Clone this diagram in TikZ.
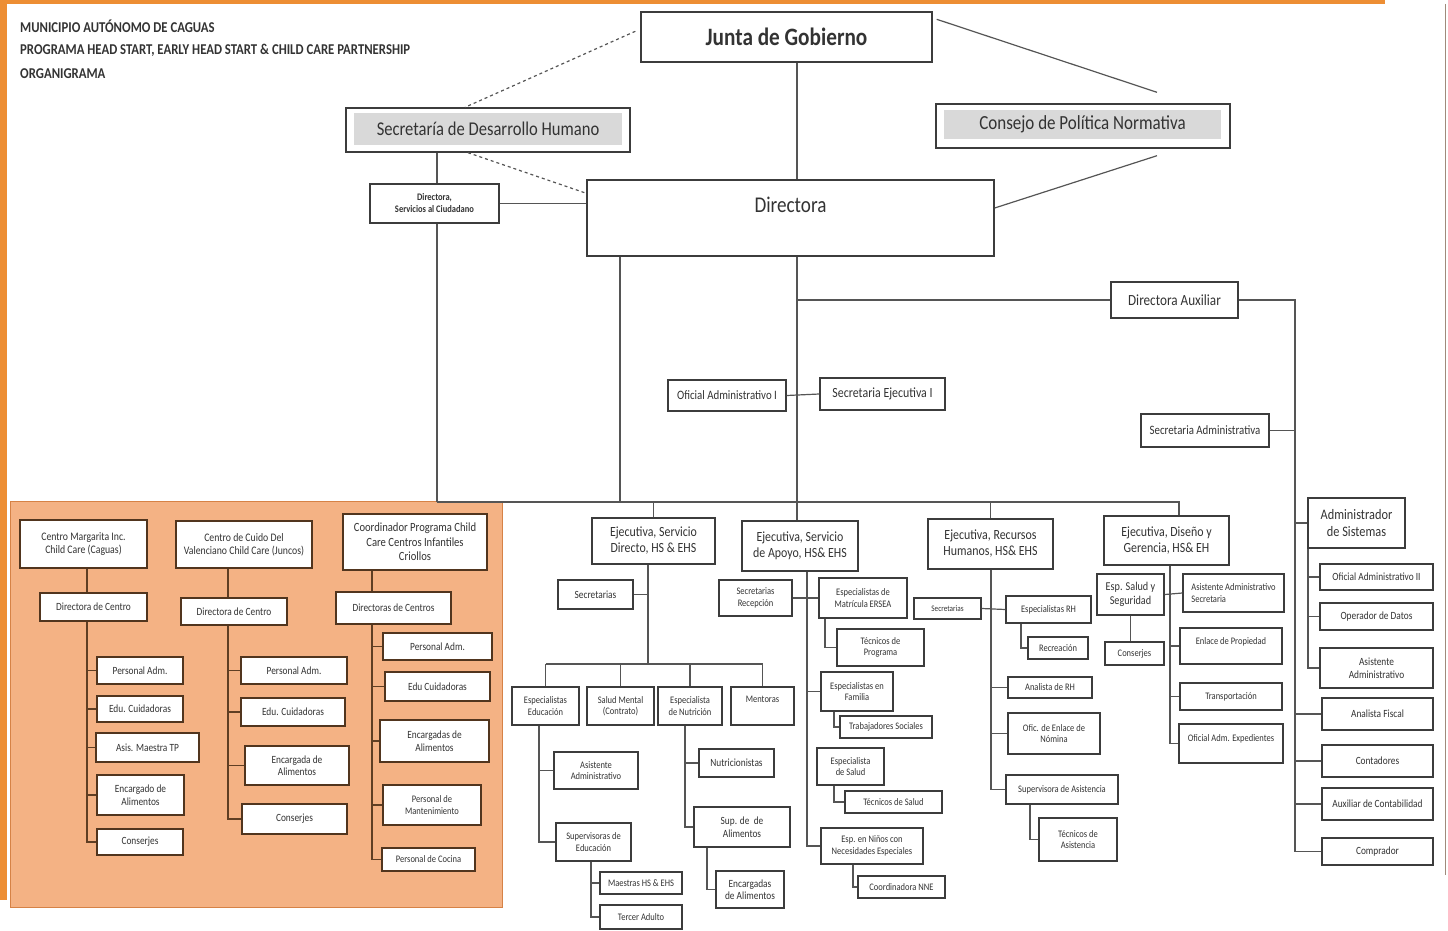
\documentclass[tikz,border=0pt]{standalone}
\usepackage{fontspec}
\setmainfont{Carlito}[FakeStretch=0.85]
\usepackage{tikz}

\definecolor{slide}{RGB}{237,142,52}
\definecolor{orfill}{RGB}{244,178,132}
\definecolor{ordraw}{RGB}{214,130,70}
\definecolor{boxc}{RGB}{60,60,60}
\definecolor{linec}{RGB}{85,85,85}
\definecolor{brownc}{RGB}{95,62,35}
\definecolor{grayin}{RGB}{217,217,217}

\tikzset{
  box/.style={draw=boxc, line width=1.4pt, fill=white, align=center, inner sep=1pt,
    text=black!80, font=\fontsize{11}{12.5}\selectfont},
  obox/.style={box, draw=brownc!85!black},
  link/.style={draw=linec, line width=1.2pt},
  olink/.style={draw=brownc, line width=1.3pt},
  title/.style={anchor=west, inner sep=0pt, text=black!80, font=\bfseries\fontsize{15}{17}\selectfont},
  fa/.style={font=\fontsize{10}{11.5}\selectfont},
  fb/.style={font=\fontsize{11}{12.5}\selectfont},
  fc/.style={font=\fontsize{12}{13.5}\selectfont},
  fd/.style={font=\fontsize{14}{16}\selectfont},
  fe/.style={font=\fontsize{15.5}{17.5}\selectfont}
}

% box from its two corners: [style]{name}{x1}{y1}{x2}{y2}{text}
\newcommand{\orgbox}[7][]{%
  \node[box, #1, minimum width={#5-#3}, minimum height={#6-#4}] (#2) at ({(#3+#5)/2},{(#4+#6)/2}) {#7};}

\begin{document}
\begin{tikzpicture}[x=1pt, y=-1pt]
  \useasboundingbox (0,0) rectangle (1448,931);
  \fill[slide] (0,0) rectangle (1385,4);
  \fill[slide] (0,0) rectangle (7,900);
  \draw[brownc!60, line width=1pt] (1445,4) -- (1445,875);
  \filldraw[fill=orfill, draw=ordraw, line width=1pt] (10,501) rectangle (502,907);

  \node[title] (tit1) at (20,26) {MUNICIPIO AUTÓNOMO DE CAGUAS};
  \node[title] (tit2) at (20,50) {PROGRAMA HEAD START, EARLY HEAD START \& CHILD CARE PARTNERSHIP};
  \node[title] (tit3) at (20,74) {ORGANIGRAMA};

  % top of the chart
  \orgbox[font=\bfseries\fontsize{25}{27}\selectfont]{jdg}{641}{12}{932}{62}{Junta de Gobierno}
  \orgbox{sdh}{346}{108}{630}{152}{}
  \orgbox[draw=none, fill=grayin, font=\fontsize{19.5}{21}\selectfont]{sdhin}{354}{113}{622}{145}{Secretaría de Desarrollo Humano}
  \orgbox{cpn}{936}{104}{1230}{148}{}
  \orgbox[draw=none, fill=grayin, font=\fontsize{20}{22}\selectfont]{cpnin}{944}{110}{1221}{139}{Consejo de Política Normativa}
  \orgbox[font=\fontsize{22.5}{24}\selectfont, text height=15pt, text depth=27pt]{dir}{587}{180}{994}{256}{Directora}
  \orgbox[font=\bfseries\fontsize{10}{12}\selectfont]{dsc}{370}{184}{499}{223}{Directora,\\Servicios al Ciudadano}
  \orgbox[fe]{daux}{1111}{282}{1238}{318}{Directora Auxiliar}
  \orgbox[font=\fontsize{12.8}{14}\selectfont]{oadm}{668}{380}{786}{411}{Oficial Administrativo I}
  \orgbox[fd]{sej}{820}{378}{945}{410}{Secretaria Ejecutiva I}
  \orgbox[font=\fontsize{12.8}{14}\selectfont]{sadm}{1141}{414}{1269}{447}{Secretaria Administrativa}

  % administracion
  \orgbox[font=\fontsize{14.5}{16.5}\selectfont]{adsis}{1308}{498}{1405}{548}{Administrador\\de Sistemas}
  \orgbox[fb]{oa2}{1320}{564}{1433}{590}{Oficial Administrativo II}
  \orgbox[fb]{opd}{1320}{603}{1433}{630}{Operador de Datos}
  \orgbox[fb]{asad2}{1320}{648}{1433}{688}{Asistente\\Administrativo}
  \orgbox[fb]{afis}{1322}{698}{1433}{730}{Analista Fiscal}
  \orgbox[fb]{cont}{1322}{745}{1433}{777}{Contadores}
  \orgbox[fb]{auxc}{1322}{788}{1433}{820}{Auxiliar de Contabilidad}
  \orgbox[fb]{comp}{1322}{838}{1433}{865}{Comprador}

  % centros de cuido
  \orgbox[obox, font=\fontsize{11.5}{13}\selectfont]{cm1}{20}{520}{147}{568}{Centro Margarita Inc.\\Child Care (Caguas)}
  \orgbox[obox, font=\fontsize{11.5}{13}\selectfont]{cm2}{176}{521}{312}{568}{Centro de Cuido Del\\Valenciano Child Care (Juncos)}
  \orgbox[obox, font=\fontsize{12.5}{14.5}\selectfont]{cm3}{343}{514}{487}{570}{Coordinador Programa Child\\Care Centros Infantiles\\Criollos}
  \orgbox[obox]{dc1}{40}{593}{147}{621}{Directora de Centro}
  \orgbox[obox]{dc2}{181}{598}{287}{625}{Directora de Centro}
  \orgbox[obox]{dc3}{336}{592}{451}{624}{Directoras de Centros}
  \orgbox[obox]{pa1}{97}{657}{183}{684}{Personal Adm.}
  \orgbox[obox]{ec1}{97}{696}{183}{722}{Edu. Cuidadoras}
  \orgbox[obox]{am1}{96}{733}{199}{762}{Asis. Maestra TP}
  \orgbox[obox]{ea1}{97}{775}{184}{815}{Encargado de\\Alimentos}
  \orgbox[obox]{co1}{97}{829}{183}{855}{Conserjes}
  \orgbox[obox]{pa2}{241}{657}{347}{684}{Personal Adm.}
  \orgbox[obox]{ec2}{241}{698}{345}{726}{Edu. Cuidadoras}
  \orgbox[obox]{ea2}{245}{746}{349}{785}{Encargada de\\Alimentos}
  \orgbox[obox]{co2}{242}{804}{347}{834}{Conserjes}
  \orgbox[obox]{pa3}{383}{633}{492}{660}{Personal Adm.}
  \orgbox[obox]{ec3}{385}{672}{490}{701}{Edu Cuidadoras}
  \orgbox[obox]{ea3}{380}{720}{489}{762}{Encargadas de\\Alimentos}
  \orgbox[obox, fa]{pm3}{383}{785}{481}{825}{Personal de\\Mantenimiento}
  \orgbox[obox, fa]{pc3}{382}{848}{475}{871}{Personal de Cocina}

  % servicio directo
  \orgbox[fd]{ejsd}{592}{518}{715}{564}{Ejecutiva, Servicio\\Directo, HS \& EHS}
  \orgbox[fb]{sdsec}{558}{580}{633}{609}{Secretarias}
  \orgbox[fa]{espe}{512}{687}{579}{725}{Especialistas\\Educación}
  \orgbox[fa]{salm}{587}{687}{654}{725}{Salud Mental\\(Contrato)}
  \orgbox[fa]{espn}{658}{687}{722}{725}{Especialista\\de Nutrición}
  \orgbox[fa, text height=7pt, text depth=15pt]{ment}{731}{687}{794}{725}{Mentoras}
  \orgbox[fa]{asad1}{554}{752}{638}{789}{Asistente\\Administrativo}
  \orgbox[fa]{supe}{556}{823}{631}{861}{Supervisoras de\\Educación}
  \orgbox[fa]{maes}{600}{872}{682}{894}{Maestras HS \& EHS}
  \orgbox[fa]{terc}{600}{905}{682}{929}{Tercer Adulto}
  \orgbox[fb]{nutc}{699}{749}{774}{777}{Nutricionistas}
  \orgbox[fb]{supa}{694}{807}{790}{847}{Sup. de\ \ de\\Alimentos}
  \orgbox[fb]{enca}{716}{871}{784}{908}{Encargadas\\de Alimentos}

  % servicio de apoyo
  \orgbox[fd]{ejsa}{742}{521}{858}{571}{Ejecutiva, Servicio\\de Apoyo, HS\& EHS}
  \orgbox[fa]{srec}{719}{580}{792}{616}{Secretarias\\Recepción}
  \orgbox[fa]{ersea}{819}{578}{907}{618}{Especialistas de\\Matrícula ERSEA}
  \orgbox[fa]{tprog}{837}{629}{924}{666}{Técnicos de\\Programa}
  \orgbox[fa]{efam}{821}{672}{893}{711}{Especialistas en\\Familia}
  \orgbox[fa]{trab}{840}{716}{932}{738}{Trabajadores Sociales}
  \orgbox[fa]{esal}{817}{748}{884}{785}{Especialista\\de Salud}
  \orgbox[fa]{tsal}{845}{791}{942}{813}{Técnicos de Salud}
  \orgbox[fa]{enne}{821}{828}{923}{864}{Esp. en Niños con\\Necesidades Especiales}
  \orgbox[fa]{cnne}{858}{876}{945}{898}{Coordinadora NNE}

  % recursos humanos
  \orgbox[fd]{ejrh}{928}{519}{1053}{569}{Ejecutiva, Recursos\\Humanos, HS\& EHS}
  \orgbox[font=\fontsize{8.5}{10}\selectfont]{rhsec}{914}{598}{981}{619}{Secretarias}
  \orgbox[fa]{esprh}{1006}{596}{1091}{623}{Especialistas RH}
  \orgbox[fa]{recr}{1028}{637}{1088}{659}{Recreación}
  \orgbox[fa]{anrh}{1008}{677}{1092}{698}{Analista de RH}
  \orgbox[fa]{ofen}{1008}{713}{1100}{754}{Ofic. de Enlace de\\Nómina}
  \orgbox[fa]{supas}{1006}{775}{1118}{804}{Supervisora de Asistencia}
  \orgbox[fa]{tasis}{1039}{818}{1117}{861}{Técnicos de\\Asistencia}

  % diseno y gerencia
  \orgbox[fd]{edg}{1104}{516}{1229}{565}{Ejecutiva, Diseño y\\Gerencia, HS\& EH}
  \orgbox[fc]{essa}{1097}{574}{1164}{615}{Esp. Salud y\\Seguridad}
  \orgbox[fa]{cons4}{1105}{642}{1164}{665}{Conserjes}
  \orgbox[fa, align=left]{asec}{1183}{574}{1284}{612}{Asistente Administrativo\\Secretaria}
  \orgbox[fa, text height=7pt, text depth=11pt]{enpr}{1180}{628}{1282}{664}{Enlace de Propiedad}
  \orgbox[fa]{trans}{1180}{683}{1282}{710}{Transportación}
  \orgbox[fa, text height=7pt, text depth=12pt]{oexp}{1179}{724}{1283}{763}{Oficial Adm. Expedientes}

  % lines at the top
  \coordinate (tdir) at (797,0);
  \coordinate (tdsc) at (437,0);
  \coordinate (dleft) at (620,0);
  \coordinate (tdg) at (1179,0);
  \coordinate (bus) at (0,502);
  \draw[link, dashed] ([xshift=-5pt,yshift=-20pt]jdg.north west) -- ([xshift=-23pt]sdh.north);
  \draw[link, dashed] ([xshift=-20pt]sdh.south) -- ([yshift=-14pt]dir.north west);
  \draw[link] (jdg.south -| tdir) -- (dir.north -| tdir);
  \draw[link] ([xshift=4pt,yshift=-8pt]jdg.north east) -- ([xshift=74pt,yshift=11pt]cpn.north);
  \draw[link] ([xshift=74pt,yshift=-7pt]cpn.south) -- ([yshift=10pt]dir.east);
  \draw[link] (sdh.south -| tdsc) -- (dsc.north -| tdsc);
  \draw[link] (dsc.south -| tdsc) -- (tdsc |- bus);
  \draw[link] (dsc.east) -- (dsc.east -| dir.west);
  \draw[link] (dir.south -| dleft) -- (dleft |- bus);
  \draw[link] (dir.south -| tdir) -- (ejsa.north -| tdir);
  \draw[link] (daux.west) -- (daux.west -| tdir);
  \draw[link] (oadm.east) -- (sej.west);
  \draw[link] (tdsc |- bus) -- (tdg |- bus) -- (tdg |- edg.north);
  \draw[link] (ejsd.north) -- (ejsd.north |- bus);
  \draw[link] (ejrh.north) -- (ejrh.north |- bus);

  % right side
  \coordinate (trt) at (1295,0);
  \coordinate (tas) at (1308,0);
  \draw[link] (daux.east) -- (daux.east -| trt) -- (trt |- comp.west) -- (comp.west);
  \draw[link] (sadm.east) -- (sadm.east -| trt);
  \foreach \n in {adsis,afis,cont,auxc}
    \draw[link] (\n.west) -- (\n.west -| trt);
  \draw[link] (adsis.south -| tas) -- (tas |- asad2.west) -- (asad2.west);
  \foreach \n in {oa2,opd}
    \draw[link] (\n.west) -- (\n.west -| tas);

  % inside the orange box
  \coordinate (t1) at (87,0);
  \coordinate (t2) at (228,0);
  \coordinate (t3) at (372,0);
  \draw[olink] (cm1.south -| t1) -- (dc1.north -| t1);
  \draw[olink] (dc1.south -| t1) -- (t1 |- co1.west) -- (co1.west);
  \foreach \n in {pa1,ec1,am1,ea1}
    \draw[olink] (\n.west) -- (\n.west -| t1);
  \draw[olink] (cm2.south -| t2) -- (dc2.north -| t2);
  \draw[olink] (dc2.south -| t2) -- (t2 |- co2.west) -- (co2.west);
  \foreach \n in {pa2,ec2,ea2}
    \draw[olink] (\n.west) -- (\n.west -| t2);
  \draw[olink] (cm3.south -| t3) -- (dc3.north -| t3);
  \draw[olink] (dc3.south -| t3) -- (t3 |- pc3.west) -- (pc3.west);
  \foreach \n in {pa3,ec3,ea3,pm3}
    \draw[olink] (\n.west) -- (\n.west -| t3);

  % servicio directo
  \coordinate (tsd) at (648,0);
  \coordinate (mbus) at (0,664);
  \draw[link] (ejsd.south -| tsd) -- (tsd |- mbus);
  \draw[link] (sdsec.east) -- (sdsec.east -| tsd);
  \draw[link] (espe.north |- mbus) -- (ment.north |- mbus);
  \foreach \n in {espe,salm,espn,ment}
    \draw[link] (\n.north) -- (\n.north |- mbus);
  \coordinate (te) at (539,0);
  \coordinate (ts) at (591,0);
  \coordinate (tn) at (685,0);
  \coordinate (tsa) at (707,0);
  \draw[link] (espe.south -| te) -- (te |- supe.west) -- (supe.west);
  \draw[link] (asad1.west) -- (asad1.west -| te);
  \draw[link] (supe.south -| ts) -- (ts |- terc.west) -- (terc.west);
  \draw[link] (maes.west) -- (maes.west -| ts);
  \draw[link] (espn.south -| tn) -- (tn |- supa.west) -- (supa.west);
  \draw[link] (nutc.west) -- (nutc.west -| tn);
  \draw[link] (supa.south -| tsa) -- (tsa |- enca.west) -- (enca.west);

  % servicio de apoyo
  \coordinate (tap) at (807,0);
  \coordinate (tp1) at (825,0);
  \coordinate (tp2) at (834,0);
  \coordinate (tp3) at (853,0);
  \draw[link] (ejsa.south -| tap) -- (tap |- enne.west) -- (enne.west);
  \draw[link] (srec.east) -- (ersea.west);
  \draw[link] (efam.west) -- (efam.west -| tap);
  \draw[link] (ersea.south -| tp1) -- (tp1 |- tprog.west) -- (tprog.west);
  \draw[link] (efam.south -| tp2) -- (tp2 |- trab.west) -- (trab.west);
  \draw[link] (esal.south -| tp2) -- (tp2 |- tsal.west) -- (tsal.west);
  \draw[link] (enne.south -| tp3) -- (tp3 |- cnne.west) -- (cnne.west);

  % recursos humanos
  \coordinate (trh) at (991,0);
  \coordinate (tr1) at (1021,0);
  \coordinate (tr2) at (1030,0);
  \draw[link] (ejrh.south -| trh) -- (trh |- supas.west) -- (supas.west);
  \draw[link] (rhsec.east) -- (esprh.west);
  \foreach \n in {anrh,ofen}
    \draw[link] (\n.west) -- (\n.west -| trh);
  \draw[link] (esprh.south -| tr1) -- (tr1 |- recr.west) -- (recr.west);
  \draw[link] (supas.south -| tr2) -- (tr2 |- tasis.west) -- (tasis.west);

  % diseno y gerencia
  \coordinate (tdv) at (1170,0);
  \draw[link] (edg.south -| tdv) -- (tdv |- oexp.west) -- (oexp.west);
  \draw[link] (essa.east) -- (asec.west);
  \foreach \n in {enpr,trans}
    \draw[link] (\n.west) -- (\n.west -| tdv);
  \draw[link] (essa.south) -- (essa.south |- cons4.north);
\end{tikzpicture}
\end{document}
